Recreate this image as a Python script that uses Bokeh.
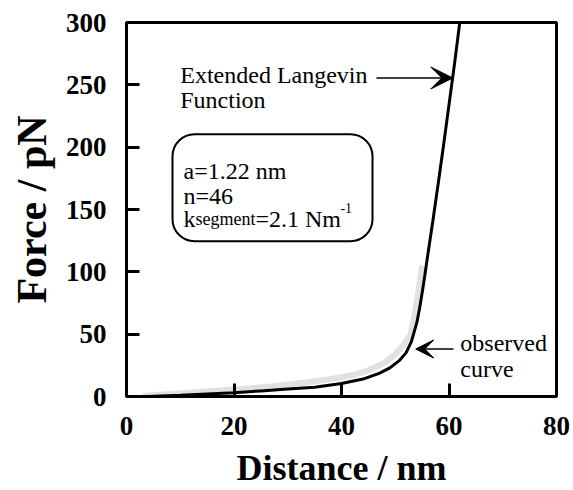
from bokeh.plotting import figure
from bokeh.models import Label, Arrow, VeeHead, BoxAnnotation, Range1d, FixedTicker
from bokeh.embed import file_html
from bokeh.resources import INLINE

# ---- data ----
x_ticks = [0, 20, 40, 60, 80]
y_ticks = [0, 50, 100, 150, 200, 250, 300]
x_title = "Distance / nm"
y_title = "Force / pN"

# observed force curve (grey, noisy band)
obs_x = [3, 8, 13, 18, 23, 28, 33, 38, 42, 45, 48, 50, 51.5, 52.9, 54.0, 55.0]
obs_y = [0.5, 2, 3.5, 5, 6.5, 8.5, 11, 14, 17, 21, 27, 34, 41, 50, 75, 105]

# extended Langevin function fit (black)
fit_x = [0, 4, 10, 15, 20, 25, 30, 35, 40, 44, 47, 49, 50.8, 52, 53, 54,
         54.5, 55, 55.5, 56, 57, 58, 59, 60, 61, 62]
fit_y = [0, 0, 1, 2, 3, 4.5, 6, 7.5, 10.5, 14, 18.5, 23, 29, 35, 44, 59,
         70, 83, 97, 112, 141, 171, 202, 234, 266, 300]

SERIF = "Liberation Serif"

p = figure(width=571, height=490, output_backend="svg", toolbar_location=None,
           x_range=Range1d(0, 80), y_range=Range1d(0, 300),
           min_border_left=126, min_border_right=15, min_border_top=22,
           min_border_bottom=90)

p.grid.visible = False
p.outline_line_color = "black"
p.outline_line_width = 3
p.background_fill_color = "white"
p.border_fill_color = "white"

p.xaxis.ticker = FixedTicker(ticks=x_ticks)
p.yaxis.ticker = FixedTicker(ticks=y_ticks)

for ax in (p.xaxis, p.yaxis):
    ax.axis_line_width = 3
    ax.axis_line_color = "black"
    ax.major_tick_line_width = 3
    ax.major_tick_line_color = "black"
    ax.major_tick_in = 13
    ax.major_tick_out = 0
    ax.minor_tick_line_color = None
    ax.major_label_text_font = SERIF
    ax.major_label_text_font_style = "bold"
    ax.major_label_text_font_size = "27px"
    ax.major_label_text_color = "black"
    ax.axis_label_text_font = SERIF
    ax.axis_label_text_font_style = "bold"
    ax.axis_label_text_color = "black"

p.xaxis.axis_label = x_title
p.yaxis.axis_label = y_title
p.xaxis.axis_label_text_font_size = "36px"
p.yaxis.axis_label_text_font_size = "42px"
p.xaxis.major_label_standoff = 20
p.yaxis.major_label_standoff = 20
p.xaxis.axis_label_standoff = 10
p.yaxis.axis_label_standoff = 8

# curves
p.line(obs_x, obs_y, line_color="#a8a8a8", line_width=6, line_alpha=0.35)
p.line(fit_x, fit_y, line_color="black", line_width=3)

# annotations
FS = "24px"
def lab(x, y, t, size=FS):
    p.add_layout(Label(x=x, y=y, text=t, text_font=SERIF, text_font_size=size,
                       text_color="black", text_baseline="alphabetic",
                       text_align="left"))

lab(10.0, 258, "Extended Langevin")
lab(10.0, 238, "Function")
p.add_layout(Arrow(end=VeeHead(size=22, fill_color="black", line_color="black"),
                   x_start=46.5, y_start=255.5, x_end=60.7, y_end=255.5,
                   line_color="black", line_width=1.5))

p.add_layout(BoxAnnotation(left=8.56, right=45.77, top=210.3, bottom=124.6,
                           border_radius=22, fill_color=None, fill_alpha=0,
                           line_color="black", line_alpha=1.0, line_width=2))
lab(10.6, 181, "a=1.22 nm")
lab(10.6, 161, "n=46")
lab(10.6, 142.5, "k")
lab(12.85, 142.0, "segment", "18px")
lab(24.0, 142.5, "=2.1 Nm")
lab(39.8, 151, "-1", "14px")

lab(62.1, 42.9, "observed")
lab(62.1, 22.2, "curve")
p.add_layout(Arrow(end=VeeHead(size=18, fill_color="black", line_color="black"),
                   x_start=60.84, y_start=38.1, x_end=53.8, y_end=38.1,
                   line_color="black", line_width=1.5))

open("out.html", "w").write(file_html(p, INLINE))
